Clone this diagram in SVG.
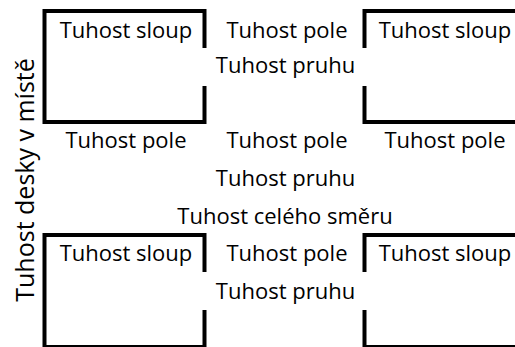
<svg xmlns="http://www.w3.org/2000/svg" width="515" height="347" viewBox="0 0 515 347">
<style>
.b{fill:none;stroke:#000;stroke-width:4;stroke-linejoin:miter;stroke-linecap:butt}
text{font-family:"Open Sans","Noto Sans",sans-serif;font-size:22px;fill:#000;text-anchor:middle}
</style>
<rect width="515" height="347" fill="#fff"/>
<g id="box-top-left"><path class="b" d="M204.5,48V11H44.5V122H204.5V86"/><text x="126" y="38">Tuhost sloup</text></g>
<g id="box-top-right"><path class="b" d="M364.5,48V11H520M520,122H364.5V86"/><text x="445" y="38">Tuhost sloup</text></g>
<g id="box-bottom-left"><path class="b" d="M204.5,272V235H44.5V347H204.5V310"/><text x="126" y="261">Tuhost sloup</text></g>
<g id="box-bottom-right"><path class="b" d="M364.5,272V235H520M520,347H364.5V310"/><text x="445" y="261">Tuhost sloup</text></g>
<g id="labels">
<text x="287" y="38">Tuhost pole</text>
<text x="285.5" y="73">Tuhost pruhu</text>
<text x="126" y="148">Tuhost pole</text>
<text x="287" y="148">Tuhost pole</text>
<text x="445" y="148">Tuhost pole</text>
<text x="285.5" y="186">Tuhost pruhu</text>
<text x="285" y="224">Tuhost celého směru</text>
<text x="287" y="261">Tuhost pole</text>
<text x="285.5" y="299">Tuhost pruhu</text>
<text transform="translate(34,180) rotate(-90)" style="font-size:25px">Tuhost desky v místě</text>
</g>
</svg>
